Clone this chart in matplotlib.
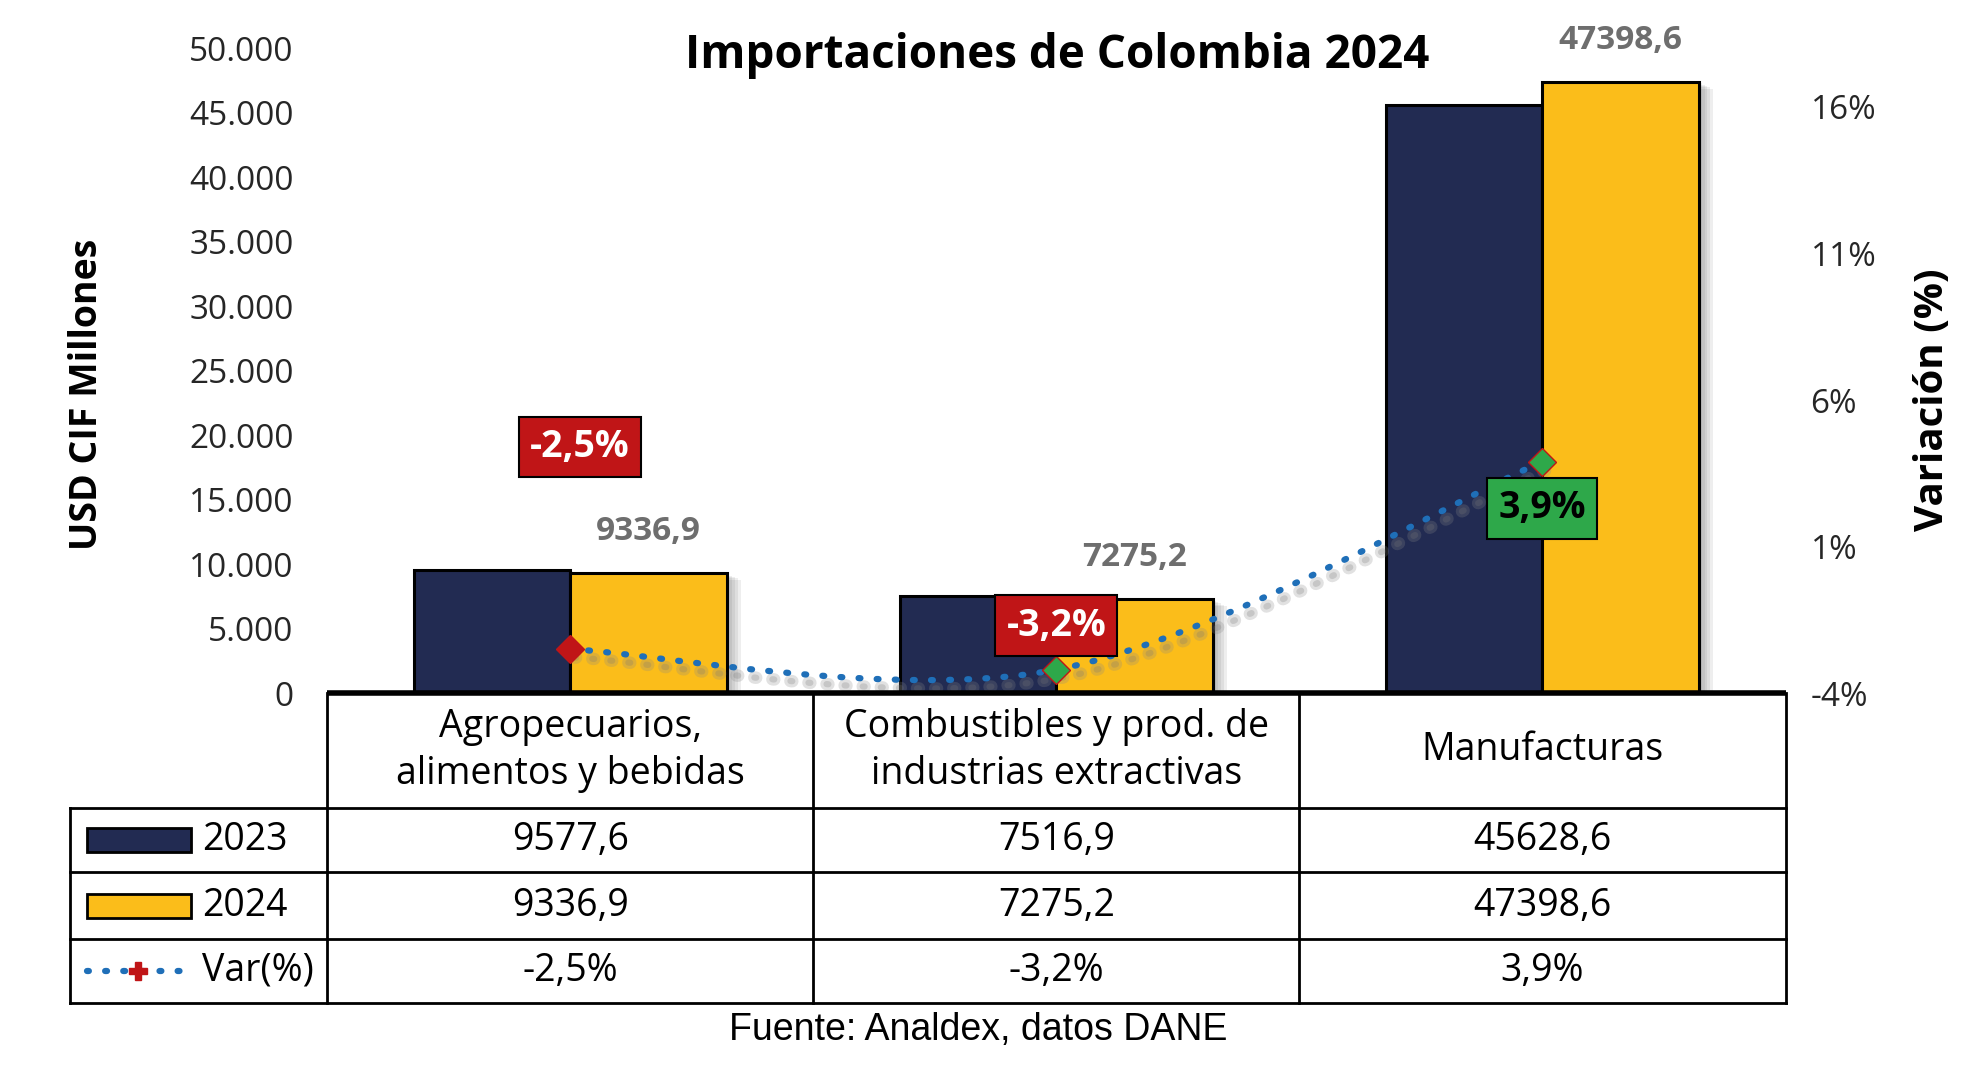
import numpy as np
import matplotlib
matplotlib.use("Agg")
import matplotlib.pyplot as plt
import matplotlib.patheffects as pe
from matplotlib.path import Path
from matplotlib.patches import PathPatch, Rectangle
from matplotlib.lines import Line2D

# data
categorias = ["Agropecuarios,\nalimentos y bebidas",
              "Combustibles y prod. de\nindustrias extractivas",
              "Manufacturas"]
valores_2023 = [9577.6, 7516.9, 45628.6]
valores_2024 = [9336.9, 7275.2, 47398.6]
variacion = [-2.5, -3.2, 3.9]

# where the variation boxes sit relative to each point (in % units)
label_offsets = [6.9, 1.5, -1.6]
label_dx = [0.02, 0.0, 0.0]

c2023 = "#222B52"
c2024 = "#FBBD1A"
c_line = "#1F6FB8"
c_red = "#C01517"
c_green = "#2EA84A"

plt.rcParams['font.family'] = ['Open Sans', 'DejaVu Sans']


def fmt_dec(v):
    return f"{v:.1f}".replace('.', ',')


def fmt_pct(v):
    return f"{v:.1f}%".replace('.', ',')


fig = plt.figure(figsize=(19.84, 10.69), dpi=100)
ax = fig.add_axes([0.1648, 0.3516, 0.7352, 0.6032])
ax2 = ax.twinx()

x = np.arange(len(categorias))
w = 0.322
# soft shadow: a few stacked translucent offsets
shadow = [pe.SimplePatchShadow(offset=(o, -o * 0.5), shadow_rgbFace='#444444', alpha=0.09)
          for o in (10, 8, 6, 4, 2)] + [pe.Normal()]
ax.bar(x - w / 2, valores_2023, w, color=c2023, edgecolor='black', linewidth=2.2,
       path_effects=shadow, zorder=2)
ax.bar(x + w / 2, valores_2024, w, color=c2024, edgecolor='black', linewidth=2.2,
       path_effects=shadow, zorder=2)

for xi, v in zip(x, valores_2024):
    ax.annotate(fmt_dec(v), (xi + w / 2, v), xytext=(0, 30), textcoords='offset points',
                ha='center', va='center', fontsize=24, fontweight='bold', color='#6E6E6E')

ax.set_xlim(-0.5, 2.5)
ax.set_ylim(0, 50000)
ax.set_yticks(np.arange(0, 50001, 5000))
ax.set_yticklabels([f"{int(t):,}".replace(',', '.') for t in ax.get_yticks()])
ax.set_xticks([])
ax.tick_params(axis='y', length=0, pad=24, labelsize=24, labelcolor='#262626')
for s in ax.spines.values():
    s.set_visible(False)

ax2.set_ylim(-4, 18)
ax2.set_yticks([-4, 1, 6, 11, 16])
ax2.set_yticklabels([f"{t}%" for t in [-4, 1, 6, 11, 16]])
ax2.tick_params(axis='y', length=0, pad=18, labelsize=24, labelcolor='#262626')
for s in ax2.spines.values():
    s.set_visible(False)

# smoothed line through the points (Catmull-Rom style bezier)
pts = np.column_stack([x, variacion]).astype(float)
verts = [tuple(pts[0])]
codes = [Path.MOVETO]
n = len(pts)
for i in range(n - 1):
    p0 = pts[i - 1] if i > 0 else pts[i]
    p1 = pts[i]
    p2 = pts[i + 1]
    p3 = pts[i + 2] if i + 2 < n else pts[i + 1]
    c1 = p1 + (p2 - p0) / 6
    c2 = p2 - (p3 - p1) / 6
    verts += [tuple(c1), tuple(c2), tuple(p2)]
    codes += [Path.CURVE4] * 3
line_shadow = [pe.SimpleLineShadow(offset=(3, -6), shadow_color='#888888', alpha=0.25, linewidth=9),
               pe.SimpleLineShadow(offset=(3, -6), shadow_color='#777777', alpha=0.25),
               pe.Normal()]
curve = PathPatch(Path(verts, codes), fill=False, edgecolor=c_line, linewidth=4.5,
                  linestyle=(0, (0.3, 2.6)), capstyle='round', zorder=4,
                  path_effects=line_shadow)
ax2.add_patch(curve)
face = [c_red, c_green, c_green]
for xi, v, fc in zip(x, variacion, face):
    ax2.plot(xi, v, marker='D', markersize=14, color=fc, markeredgecolor=c_red,
             markeredgewidth=1, zorder=5)

for xi, v, off, dx in zip(x, variacion, label_offsets, label_dx):
    neg = v < 0
    ax2.text(xi + dx, v + off, fmt_pct(v), ha='center', va='center', fontsize=27,
             fontweight='bold', color='white' if neg else 'black', zorder=6,
             bbox=dict(boxstyle='square,pad=0.3', facecolor=c_red if neg else c_green,
                       edgecolor='black', linewidth=1.5))

# titles and axis labels
fig.text(0.533, 0.948, "Importaciones de Colombia 2024", ha='center', va='center',
         fontsize=33, fontweight='bold')
fig.text(0.0436, 0.631, "USD CIF Millones", rotation=90, ha='center', va='center',
         fontsize=27, fontweight='bold')
fig.text(0.974, 0.626, "Variación (%)", rotation=90, ha='center', va='center',
         fontsize=29, fontweight='bold')
fig.text(0.493, 0.0364, "Fuente: Analdex, datos DANE", ha='center', va='center',
         fontsize=27, family=['Liberation Sans', 'DejaVu Sans'])

# data table under the chart
tab = fig.add_axes([0.0353, 0.0614, 0.9000 - 0.0353, 0.3516 - 0.0614])
tab.set_xlim(-1.029, 2.5)
tab.set_ylim(310.3, 0)
tab.axis('off')
rows = [0, 114.5, 179.4, 245.5, 310.3]
lw = 2.0
tab.plot([-0.5, 2.5], [0, 0], color='black', lw=4, solid_capstyle='butt', clip_on=False)
for r in rows[1:]:
    tab.plot([-1.029, 2.5], [r, r], color='black', lw=lw, clip_on=False)
for c in [-0.5, 0.5, 1.5, 2.5]:
    tab.plot([c, c], [0, rows[-1]], color='black', lw=lw, clip_on=False)
tab.plot([-1.029, -1.029], [rows[1], rows[-1]], color='black', lw=lw, clip_on=False)

for xi, cat in zip(x, categorias):
    tab.text(xi, rows[1] / 2, cat, ha='center', va='center', fontsize=27, linespacing=1.3)

for ri, serie in enumerate([valores_2023, valores_2024]):
    yc = (rows[ri + 1] + rows[ri + 2]) / 2
    for xi, v in zip(x, serie):
        tab.text(xi, yc, fmt_dec(v), ha='center', va='center', fontsize=27)
yc = (rows[3] + rows[4]) / 2
for xi, v in zip(x, variacion):
    tab.text(xi, yc, fmt_pct(v), ha='center', va='center', fontsize=27)

# legend keys in the row headers
for ri, (col, name) in enumerate([(c2023, "2023"), (c2024, "2024")]):
    yc = (rows[ri + 1] + rows[ri + 2]) / 2
    tab.add_patch(Rectangle((-0.995, yc - 12), 0.215, 24, facecolor=col,
                            edgecolor='black', lw=2))
    tab.text(-0.757, yc, name, ha='left', va='center', fontsize=27)
yc = (rows[3] + rows[4]) / 2
tab.add_line(Line2D([-0.995, -0.785], [yc, yc], color=c_line, lw=4.5,
                    linestyle=(0, (0.3, 2.6)), dash_capstyle='round'))
tab.plot(-0.89, yc, marker='P', markersize=13, color=c_red)
tab.text(-0.757, yc, "Var(%)", ha='left', va='center', fontsize=27)

fig.savefig("out.png", dpi=100)
